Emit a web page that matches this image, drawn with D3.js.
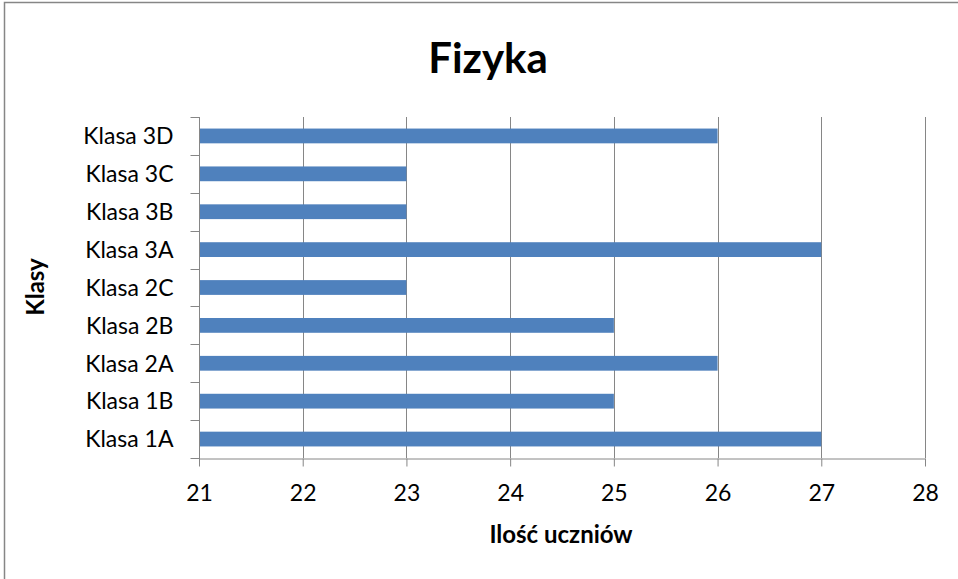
<html>
<head>
<meta charset="utf-8">
<title>Fizyka</title>
<style type="text/css">
    body{ margin:0; background:#fff; overflow:hidden; }
    #chart{ display:block; }
    text{ font-family: Lato, "Open Sans", sans-serif; fill:#000; }
</style>
<script type="text/javascript" src="https://cdnjs.cloudflare.com/ajax/libs/d3/7.8.5/d3.min.js"></script>
</head>
<body>
<svg id="chart"></svg>
<script type="text/javascript">
var categories = ["Klasa 1A","Klasa 1B","Klasa 2A","Klasa 2B","Klasa 2C","Klasa 3A","Klasa 3B","Klasa 3C","Klasa 3D"];
var values = [27,25,26,25,23,27,23,23,26];
var xTicks = [21,22,23,24,25,26,27,28];
var title = "Fizyka";
var xTitle = "Ilość uczniów";
var yTitle = "Klasy";

var width = 958, height = 579;
var plotLeft = 199, plotRight = 925, plotTop = 117, plotBottom = 458;
var gridColor = "#868686";

var svg = d3.select("#chart").attr("width", width).attr("height", height);

// outer chart frame (runs past right and bottom edge)
svg.append("rect")
    .attr("x", 4.5).attr("y", 2.5)
    .attr("width", 1000).attr("height", 620)
    .attr("fill", "#fff").attr("stroke", gridColor).attr("stroke-width", 1.5);

var xscale = d3.scaleLinear().domain([21,28]).range([plotLeft, plotRight]);
var yscale = d3.scaleBand().domain(categories.slice().reverse()).range([plotTop, plotBottom]).paddingInner(0.61).paddingOuter(0.305);
var yEdges = d3.scaleLinear().domain([0, categories.length]).range([plotBottom, plotTop]);

// vertical gridlines
svg.append("g").selectAll("line").data(xTicks.slice(1)).join("line")
    .attr("x1", d => Math.round(xscale(d)) + 0.5).attr("x2", d => Math.round(xscale(d)) + 0.5)
    .attr("y1", plotTop).attr("y2", plotBottom)
    .attr("stroke", gridColor).attr("stroke-width", 1);

// bars
svg.append("g").selectAll("rect").data(values).join("rect")
    .attr("x", xscale(21))
    .attr("y", (d, i) => yscale(categories[i]))
    .attr("width", d => xscale(d) - xscale(21))
    .attr("height", yscale.bandwidth())
    .attr("fill", "#4F81BD");

// x axis
var xAxis = svg.append("g").attr("transform", "translate(0," + (plotBottom + 0.5) + ")")
    .call(d3.axisBottom(xscale).tickValues(xTicks).tickFormat(d3.format("d")).tickSize(8).tickPadding(18).tickSizeOuter(0));
xAxis.select(".domain").attr("stroke", gridColor);
xAxis.selectAll(".tick line").attr("stroke", gridColor);
xAxis.selectAll(".tick text").style("font-size", "23px").style("font-family", "Lato, sans-serif").attr("fill", "#000");

// y axis: ticks on category boundaries
var yAx = svg.append("g").attr("transform", "translate(" + (plotLeft + 0.5) + ",0)");
yAx.append("line").attr("x1", 0).attr("x2", 0).attr("y1", plotTop).attr("y2", plotBottom + 8).attr("stroke", gridColor);
yAx.selectAll("line.tk").data(d3.range(categories.length + 1)).join("line").attr("class", "tk")
    .attr("x1", -9).attr("x2", 0)
    .attr("y1", d => Math.round(yEdges(d)) + 0.5).attr("y2", d => Math.round(yEdges(d)) + 0.5)
    .attr("stroke", gridColor);
yAx.selectAll("text").data(categories).join("text")
    .attr("x", -26)
    .attr("y", d => yscale(d) + yscale.bandwidth() / 2)
    .attr("dy", "0.36em")
    .attr("text-anchor", "end")
    .style("font-size", "23px")
    .text(d => d);

// titles
svg.append("text").attr("x", 488).attr("y", 73).attr("text-anchor", "middle")
    .style("font-size", "42px").style("font-weight", "bold").text(title);
svg.append("text").attr("x", 561).attr("y", 543).attr("text-anchor", "middle")
    .style("font-size", "24px").style("font-weight", "bold").text(xTitle);
svg.append("text").attr("transform", "translate(44,287) rotate(-90)").attr("text-anchor", "middle")
    .style("font-size", "24px").style("font-weight", "bold").text(yTitle);
</script>
</body>
</html>
